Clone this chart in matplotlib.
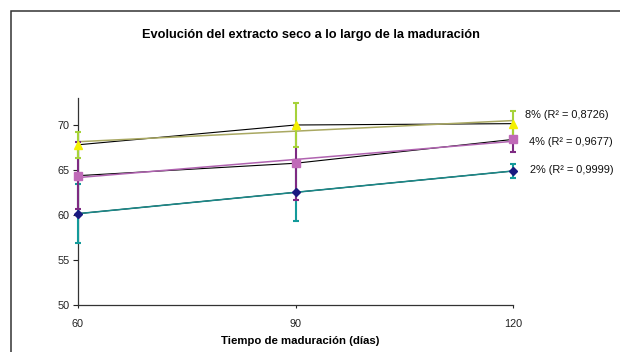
import numpy as np
import matplotlib
matplotlib.use("Agg")
import matplotlib.pyplot as plt
from matplotlib.patches import Rectangle

# Ripening time (days) and dry extract (%) per salt level
dias = [60, 90, 120]
series = ["2%", "4%", "8%"]
extracto_2 = [60.15, 62.52, 64.89]
error_2 = [3.25, 3.2, 0.78]
extracto_4 = [64.37, 65.75, 68.4]
error_4 = [3.7, 4.1, 1.4]
extracto_8 = [67.8, 70.0, 70.15]
error_8 = [1.45, 2.4, 1.45]
etiquetas = ["2% (R² = 0,9999)", "4% (R² = 0,9677)", "8% (R² = 0,8726)"]
yticks = [50, 55, 60, 65, 70]
xticks = [60, 90, 120]

valores = [extracto_2, extracto_4, extracto_8]
errores = [error_2, error_4, error_8]

# styling
marcadores = ["D", "s", "^"]
tam_marcador = [4.0, 5.5, 5.5]
col_marcador = ["#1a1a80", "#c06ab8", "#f4f000"]
col_error = ["#139a9a", "#7e2a82", "#a6d23a"]
col_tendencia = ["#1a8a8a", "#b063b0", "#a9a862"]
etiqueta_y = [65.0, 68.1, 71.1]
etiqueta_dx = [12.2, 11.5, 8.6]

narrow = ["Liberation Sans Narrow", "Liberation Sans", "DejaVu Sans"]
plt.rcParams["font.family"] = ["Liberation Sans", "DejaVu Sans"]

fig = plt.figure(figsize=(6.2, 3.52), dpi=100)
fig.patch.set_facecolor("white")
fig.patches.append(Rectangle((11 / 620, -0.1), 1.2, 1 - 11 / 352 + 0.1,
                             transform=fig.transFigure, fill=False,
                             edgecolor="#333333", linewidth=1.1))

ax = fig.add_axes([78 / 620, 1 - 305 / 352, (513 - 78) / 620, (305 - 98) / 352])
ax.set_xlim(60, 120)
ax.set_ylim(50, 73)

x = np.array(dias, dtype=float)
# raw connecting lines
for v in valores:
    ax.plot(x, v, color="black", linewidth=0.8, zorder=2)
# linear trend lines
for v, c in zip(valores, col_tendencia):
    a, b = np.polyfit(x, v, 1)
    ax.plot(x, a * x + b, color=c, linewidth=1.1, zorder=3)
# error bars and markers
for i, (v, e) in enumerate(zip(valores, errores)):
    ax.errorbar(x, v, yerr=e, fmt="none", ecolor=col_error[i], elinewidth=1.5,
                capsize=2.4, capthick=1.5, zorder=4 + i, clip_on=False)
    ax.plot(x, v, linestyle="none", marker=marcadores[i], markersize=tam_marcador[i],
            markerfacecolor=col_marcador[i], markeredgecolor=col_marcador[i],
            zorder=8, clip_on=False)

for lbl, yy, dx in zip(etiquetas, etiqueta_y, etiqueta_dx):
    ax.annotate(lbl, xy=(1.0, yy), xycoords=("axes fraction", "data"),
                xytext=(dx, 0), textcoords="offset points", ha="left", va="center",
                fontsize=7.9, color="#111111", annotation_clip=False)

ax.set_xticks(xticks)
ax.set_yticks(yticks)
ax.tick_params(axis="y", direction="out", length=3.6, width=0.8,
               labelsize=7.8, colors="#222222", pad=2.2)
ax.tick_params(axis="x", direction="out", length=2.2, width=0.8,
               labelsize=7.8, colors="#222222", pad=8.0)
for s in ["top", "right"]:
    ax.spines[s].set_visible(False)
for s in ["left", "bottom"]:
    ax.spines[s].set_color("#333333")
    ax.spines[s].set_linewidth(0.9)

fig.text(311 / 620, 1 - 35 / 352, "Evolución del extracto seco a lo largo de la maduración",
         ha="center", va="center", fontsize=9.2, fontweight="bold", family=narrow)
fig.text(300 / 620, 1 - 341 / 352, "Tiempo de maduración (días)",
         ha="center", va="center", fontsize=8.2, fontweight="bold", family=narrow)

fig.savefig("out.png", dpi=100, facecolor="white")
